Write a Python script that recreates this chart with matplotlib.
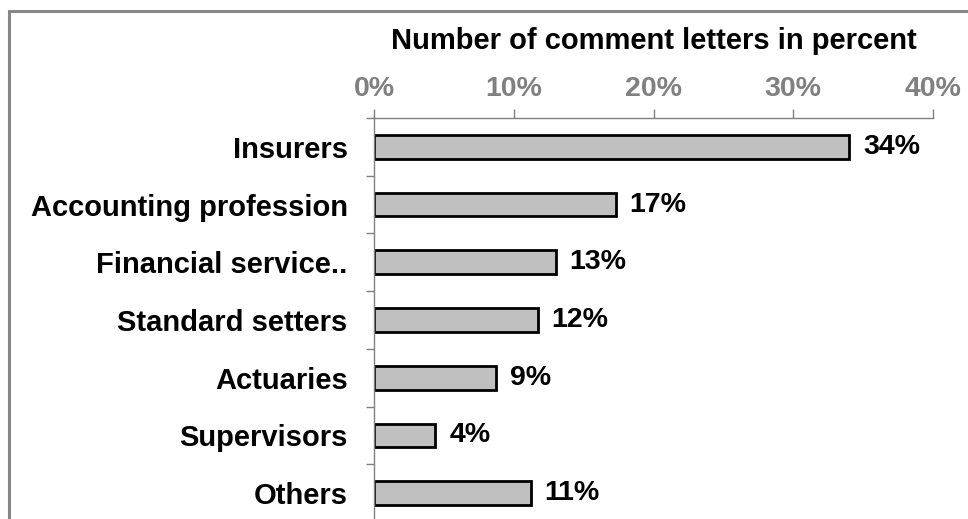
import matplotlib
matplotlib.use("Agg")
import matplotlib.pyplot as plt
import numpy as np
from matplotlib.patches import Rectangle

plt.rcParams["font.family"] = ["Liberation Sans", "DejaVu Sans"]

categories = ["Insurers", "Accounting profession", "Financial service..",
              "Standard setters", "Actuaries", "Supervisors", "Others"]
shares = [34.0, 17.3, 13.0, 11.7, 8.7, 4.4, 11.2]
share_labels = ["34%", "17%", "13%", "12%", "9%", "4%", "11%"]
xticks = [0, 10, 20, 30, 40]
xtick_labels = ["0%", "10%", "20%", "30%", "40%"]

fig = plt.figure(figsize=(9.68, 5.19), dpi=100)
# gray outer frame, cut off at right and bottom like the source screenshot
fig.patches.append(Rectangle((8.5 / 968, -0.1), 1.2, 1.1 - 10.5 / 519,
                             transform=fig.transFigure, fill=False,
                             edgecolor="#878787", linewidth=2.2))

ax = fig.add_axes([374 / 968, -3 / 519, (933 - 374) / 968, (522 - 118) / 519])
y = np.arange(len(categories))
ax.barh(y, shares, height=0.41, color="#c0c0c0", edgecolor="black", linewidth=2)

ax.set_xlim(0, 40)
ax.set_ylim(len(categories) - 0.5, -0.5)
ax.xaxis.tick_top()
ax.set_xticks(xticks)
ax.set_xticklabels(xtick_labels, fontsize=20.5, fontweight="bold", color="#808080")
ax.tick_params(axis="x", direction="out", length=6.5, width=1, color="#808080", pad=5)

ax.set_yticks(y)
ax.set_yticklabels(categories, fontsize=21, fontweight="bold")
ax.tick_params(axis="y", which="major", length=0, pad=19)
ax.set_yticks(np.arange(-0.5, len(categories) + 0.5, 1), minor=True)
ax.tick_params(axis="y", which="minor", direction="out", length=6, width=1, color="#808080")

for side in ["right", "bottom"]:
    ax.spines[side].set_visible(False)
for side in ["top", "left"]:
    ax.spines[side].set_color("#808080")
    ax.spines[side].set_linewidth(1)

for yi, v, lab in zip(y, shares, share_labels):
    ax.text(v + 1.0, yi, lab, va="center", ha="left", fontsize=20.5, fontweight="bold")

ax.set_title("Number of comment letters in percent", fontsize=21, fontweight="bold", pad=50)

fig.savefig("out.png", dpi=100)
